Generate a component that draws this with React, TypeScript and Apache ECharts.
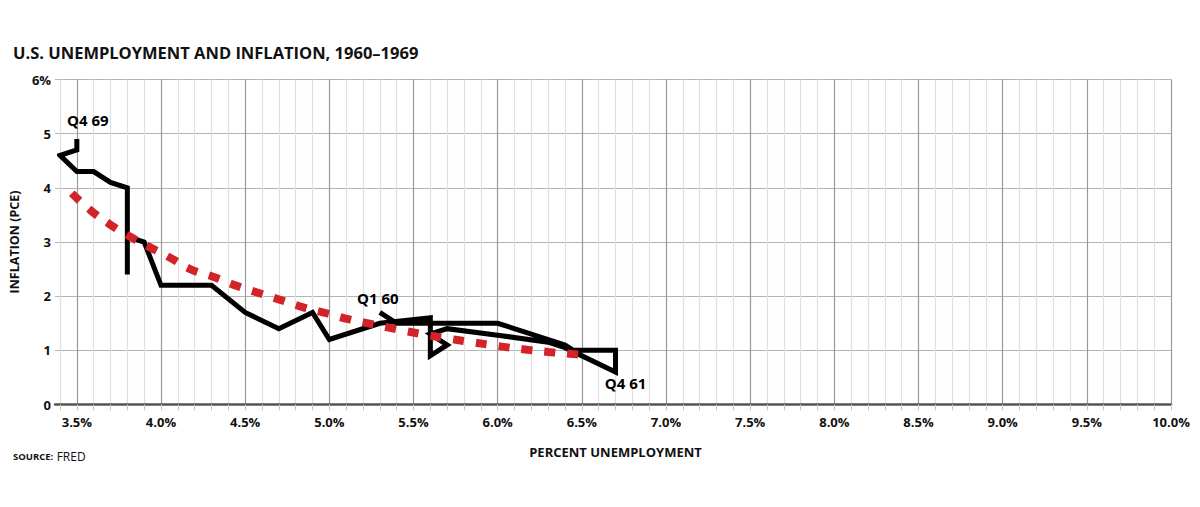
import * as echarts from "echarts";
import { useEffect, useRef } from "react";

// quarterly path, Q1 1960 -> Q4 1969
const unemployment = [
	5.3, 5.4, 6.0, 6.4, 6.45, 6.7, 6.7, 6.4, 6.3, 6.0, 5.7, 5.6, 5.7, 5.6, 5.6, 5.3, 5.0, 4.9, 4.7, 4.5,
	4.3, 4.0, 3.9, 3.8, 3.8, 3.8, 3.7, 3.6, 3.5, 3.4, 3.5, 3.5,
];
const inflation = [
	1.7, 1.5, 1.5, 1.1, 1.0, 1.0, 0.6, 1.05, 1.15, 1.28, 1.4, 1.3, 1.1, 0.9, 1.6, 1.5, 1.2, 1.7, 1.4, 1.7,
	2.2, 2.2, 3.0, 3.1, 2.4, 4.0, 4.1, 4.3, 4.3, 4.6, 4.7, 4.9,
];
const pointLabels: Record<number, string> = { 0: "Q1 60", 6: "Q4 61", 31: "Q4 69" };

// fitted curve (red dotted)
const trendX = [3.47, 3.58, 3.69, 3.81, 3.93, 4.06, 4.18, 4.31, 4.45, 4.59, 4.72, 4.85, 4.99, 5.12, 5.26, 5.4, 5.55, 5.7, 5.85, 6.0, 6.15, 6.3, 6.45, 6.55];
const trendY = [3.9, 3.59, 3.34, 3.11, 2.91, 2.7, 2.49, 2.36, 2.19, 2.05, 1.92, 1.79, 1.68, 1.57, 1.48, 1.39, 1.3, 1.22, 1.15, 1.08, 1.02, 0.97, 0.93, 0.9];

const FONT = "Open Sans";

export default function App() {
	const ref = useRef<HTMLDivElement>(null);
	useEffect(() => {
		if (!ref.current) return;
		document.body.style.margin = "0";
		const chart = echarts.init(ref.current, null, { renderer: "svg" });

		const xMin = 3.4;
		const xMax = 10;
		const tickCount = Math.round((xMax - xMin) / 0.1) + 1;
		const vColors: string[] = [];
		for (let i = 0; i < tickCount; i++) {
			const t = Math.round((xMin + i * 0.1) * 10);
			vColors.push(t % 5 === 0 ? "#9a9a9a" : "#e0e0e0");
		}

		const labels = {
			show: true,
			color: "#000",
			opacity: 1,
			fontFamily: FONT,
			fontWeight: "bold" as const,
			fontSize: 15,
		};

		const labelPoints = Object.keys(pointLabels).map((k) => {
			const i = Number(k);
			const text = pointLabels[i];
			let label: any;
			if (i === 0) label = { ...labels, position: "top", distance: 6, offset: [-2, 0], formatter: text };
			else if (i === 6) label = { ...labels, position: "bottom", distance: 3, offset: [10, 0], formatter: text };
			else label = { ...labels, position: "top", distance: 11, offset: [11, 0], formatter: text };
			return { value: [unemployment[i], inflation[i]], label };
		});

		chart.setOption({
			animation: false,
			textStyle: { fontFamily: FONT },
			title: {
				text: "U.S. UNEMPLOYMENT AND INFLATION, 1960\u20131969",
				left: 13,
				top: 42,
				padding: 0,
				textStyle: { fontSize: 16.5, fontWeight: "bold", color: "#111", fontFamily: FONT, lineHeight: 20 },
			},
			graphic: [
				{
					type: "text",
					left: 13,
					top: 450,
					style: {
						text: "{a|SOURCE:} {b|FRED}",
						rich: {
							a: { fontSize: 9.5, fontWeight: "bold", fontFamily: FONT, fill: "#111" },
							b: { fontSize: 12, fontFamily: FONT, fill: "#111" },
						},
					},
				},
			],
			grid: [
				{ left: 50, right: 29, top: 79.5, height: 325 },
				{ left: 60, right: 29, top: 79.5, height: 325 },
			],
			xAxis: [
				{
					gridIndex: 0,
					type: "value",
					min: 0,
					max: 1,
					axisLine: { show: true, onZero: false, lineStyle: { color: "#555", width: 2.5 } },
					axisTick: { show: false },
					axisLabel: { show: false },
					splitLine: { show: false },
				},
				{
					gridIndex: 1,
					type: "value",
					min: xMin,
					max: xMax,
					interval: 0.1,
					name: "PERCENT UNEMPLOYMENT",
					nameLocation: "middle",
					nameGap: 41,
					nameTextStyle: { fontSize: 13, fontWeight: "bold", color: "#111", fontFamily: FONT },
					axisLine: { show: false },
					axisTick: { show: true, length: 6, lineStyle: { color: "#c8c8c8" } },
					axisLabel: {
						margin: 11,
						fontSize: 13,
						fontWeight: "bold",
						color: "#111",
						fontFamily: FONT,
						formatter: (v: number) => (Math.round(v * 10) % 5 === 0 ? v.toFixed(1) + "%" : ""),
					},
					splitLine: { show: true, lineStyle: { color: vColors, width: 1.2 } },
				},
			],
			yAxis: [
				{
					gridIndex: 0,
					type: "value",
					min: 0,
					max: 6,
					interval: 1,
					name: "INFLATION (PCE)",
					nameLocation: "middle",
					nameGap: 31,
					nameTextStyle: { fontSize: 12.5, fontWeight: "bold", color: "#111", fontFamily: FONT },
					axisLine: { show: false },
					axisTick: { show: false },
					axisLabel: {
						margin: 4,
						fontSize: 13,
						fontWeight: "bold",
						color: "#111",
						fontFamily: FONT,
						formatter: (v: number) => (v === 6 ? "6%" : String(v)),
					},
					splitLine: { show: true, lineStyle: { color: "#b4b4b4", width: 1.2 } },
				},
				{ gridIndex: 1, type: "value", min: 0, max: 6, show: false },
			],
			series: [
				{
					type: "line",
					xAxisIndex: 1,
					yAxisIndex: 1,
					symbol: "none",
					lineStyle: { color: "#000", width: 5, join: "miter", cap: "butt" },
					data: unemployment.map((x, i) => [x, inflation[i]]),
					z: 2,
				},
				{
					type: "line",
					xAxisIndex: 1,
					yAxisIndex: 1,
					symbol: "none",
					smooth: true,
					lineStyle: { color: "#d2232a", width: 8, type: [11, 12], cap: "butt" },
					data: trendX.map((x, i) => [x, trendY[i]]),
					z: 3,
				},
				{
					type: "scatter",
					xAxisIndex: 1,
					yAxisIndex: 1,
					symbolSize: 1,
					itemStyle: { color: "transparent", opacity: 1 },
					data: labelPoints,
					z: 4,
				},
			],
		});
		return () => chart.dispose();
	}, []);
	return <div ref={ref} style={{ width: 1200, height: 507 }} />;
}
